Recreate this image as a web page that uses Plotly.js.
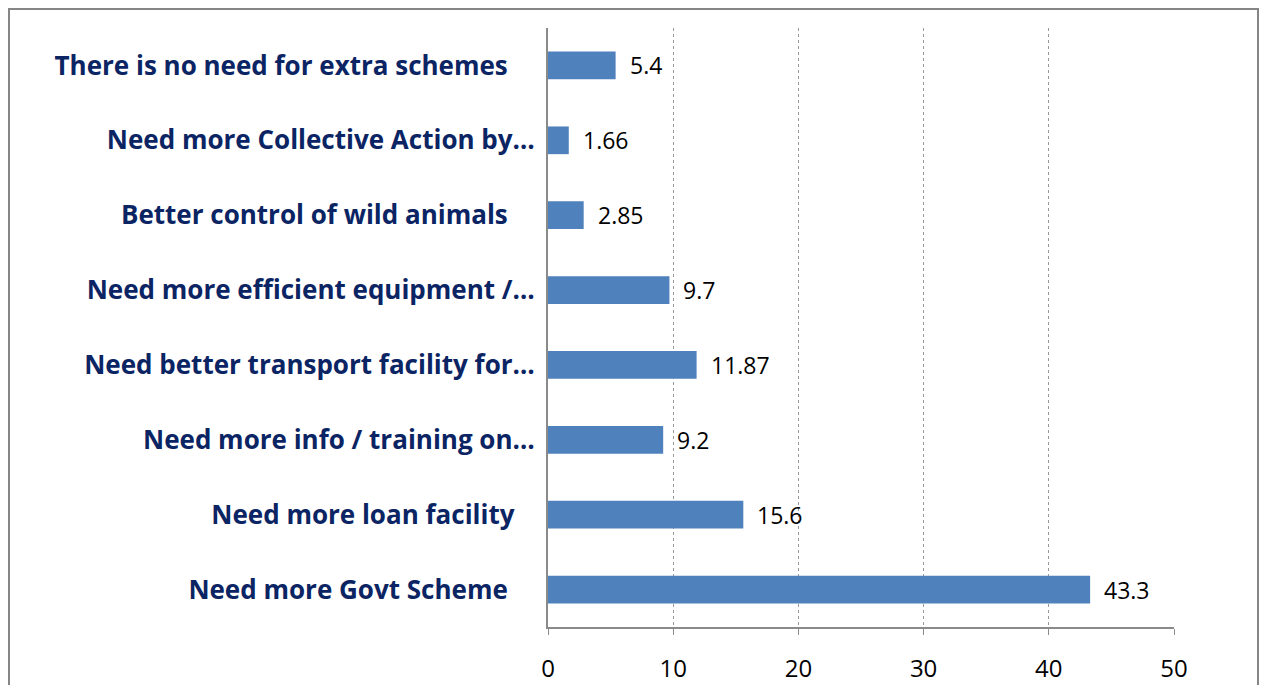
<!DOCTYPE html>
<html>
<head>
<meta charset="utf-8">
<script src="https://cdn.plot.ly/plotly-3.0.1.min.js"></script>
<style>html,body{margin:0;padding:0;background:#fff;}#chart{width:1262px;height:685px;}</style>
</head>
<body>
<div id="chart"></div>
<script>
var categories = [
  "Need more Govt Scheme",
  "Need more loan facility",
  "Need more info / training on…",
  "Need better transport facility for…",
  "Need more efficient equipment /…",
  "Better control of wild animals",
  "Need more Collective Action by…",
  "There is no need for extra schemes"
];
var tickLabels = [
  "Need more Govt Scheme\u00A0\u00A0\u00A0\u00A0",
  "Need more loan facility\u00A0\u00A0\u00A0",
  "Need more info / training on…",
  "Need better transport facility for…",
  "Need more efficient equipment /…",
  "Better control of wild animals\u00A0\u00A0\u00A0\u00A0",
  "Need more Collective Action by…",
  "There is no need for extra schemes\u00A0\u00A0\u00A0\u00A0"
];
var values = [43.3, 15.6, 9.2, 11.87, 9.7, 2.85, 1.66, 5.4];
var valueLabels = ["43.3", "15.6", "9.2", "11.87", "9.7", "2.85", "1.66", "5.4"];
var xTicks = [0, 10, 20, 30, 40, 50];

var W = 1262, H = 685, L = 548, R = 88, T = 28, B = 58;
var pw = W - L - R, ph = H - T - B;
function px(x){ return (x - L) / pw; }
function py(y){ return 1 - (y - T) / ph; }

var annotations = values.map(function(v, i){
  return {x: v, y: categories[i], xref: 'x', yref: 'y', text: valueLabels[i],
    showarrow: false, xanchor: 'left', yanchor: 'middle', xshift: 12,
    font: {family: 'Open Sans, Liberation Sans, sans-serif', size: 23, color: '#000'}};
});

var data = [{
  type: 'bar', orientation: 'h', y: categories, x: values,
  marker: {color: '#4F81BD', line: {width: 0}},
  hoverinfo: 'x+y'
}];

var layout = {
  width: W, height: H,
  margin: {l: L, r: R, t: T, b: B, pad: 0},
  paper_bgcolor: '#fff', plot_bgcolor: '#fff',
  showlegend: false,
  bargap: 0.63,
  xaxis: {
    range: [0, 50], tickvals: xTicks, ticktext: xTicks.map(String),
    showgrid: true, gridcolor: '#999', griddash: 'dot', gridwidth: 1,
    zeroline: false, showline: true, linecolor: '#8a8a8a', linewidth: 2,
    ticks: 'outside', ticklen: 6, tickcolor: '#8a8a8a',
    ticklabelstandoff: 13,
    tickfont: {family: 'Open Sans, Liberation Sans, sans-serif', size: 24, color: '#000'},
    fixedrange: true
  },
  yaxis: {
    type: 'category', categoryorder: 'array', categoryarray: categories,
    tickvals: categories, ticktext: tickLabels,
    showgrid: false, zeroline: false, showline: true, linecolor: '#8a8a8a', linewidth: 2,
    ticks: '', ticklabelstandoff: 6,
    tickfont: {family: 'Open Sans, Liberation Sans, sans-serif', size: 26, color: '#0B2463', weight: 'bold'},
    range: [-0.5, 7.5], fixedrange: true
  },
  annotations: annotations,
  shapes: [{
    type: 'rect', xref: 'paper', yref: 'paper',
    x0: px(9), x1: px(1258), y0: py(720), y1: py(9),
    line: {color: '#868686', width: 2}, fillcolor: 'rgba(0,0,0,0)', layer: 'below'
  }]
};

Plotly.newPlot('chart', data, layout, {displayModeBar: false, staticPlot: true});
</script>
</body>
</html>
